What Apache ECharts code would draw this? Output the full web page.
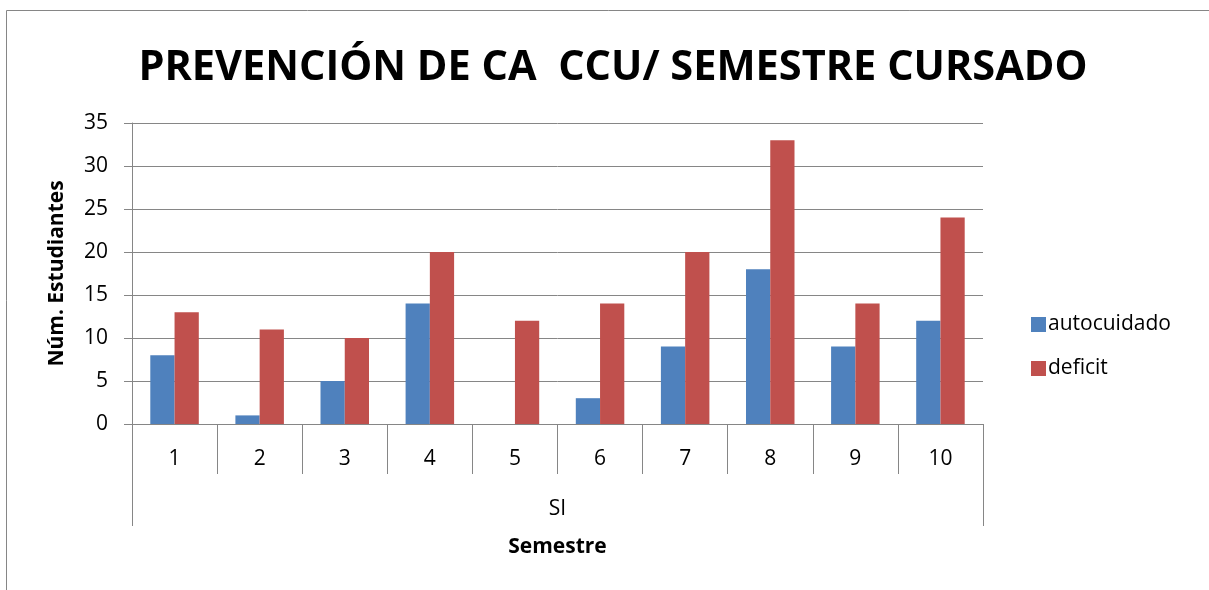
<!DOCTYPE html>
<html>
<head>
<meta charset="utf-8">
<script src="https://cdn.jsdelivr.net/npm/echarts@6/dist/echarts.min.js"></script>
<style>
  html, body { margin: 0; padding: 0; background: #fff; }
  #chart { width: 1209px; height: 590px; }
</style>
</head>
<body>
<div id="chart"></div>
<script>
const semestres = ['1', '2', '3', '4', '5', '6', '7', '8', '9', '10'];
const autocuidado = [8, 1, 5, 14, 0, 3, 9, 18, 9, 12];
const deficit = [13, 11, 10, 20, 12, 14, 20, 33, 14, 24];
const grupo = ['SI'];

const FONT = '"Open Sans", "Liberation Sans", sans-serif';
const GRIS = '#868686';

const chart = echarts.init(document.getElementById('chart'));
chart.setOption({
  backgroundColor: '#fff',
  animation: false,
  title: {
    text: 'PREVENCIÓN DE CA  CCU/ SEMESTRE CURSADO',
    left: 608,
    textAlign: 'center',
    top: 42,
    textStyle: { fontFamily: FONT, fontWeight: 'bold', fontSize: 41.5, color: '#000' },
  },
  legend: {
    orient: 'vertical',
    left: 1026,
    top: 309,
    itemWidth: 15,
    itemHeight: 15,
    itemGap: 23,
    icon: 'rect',
    textStyle: { fontFamily: FONT, fontSize: 21, color: '#000', padding: [0, 0, 0, -3] },
    data: ['autocuidado', 'deficit'],
  },
  grid: { left: 132, right: 226, top: 123, bottom: 166, containLabel: false },
  xAxis: [
    {
      type: 'category',
      data: semestres,
      axisLine: { show: true, lineStyle: { color: GRIS, width: 1 } },
      axisTick: { show: true, length: 50, lineStyle: { color: GRIS } },
      axisLabel: { margin: 25, fontFamily: FONT, fontSize: 21, color: '#000' },
    },
    {
      type: 'category',
      data: grupo,
      position: 'bottom',
      axisLine: { show: false },
      axisTick: { show: true, length: 102, lineStyle: { color: GRIS } },
      axisLabel: { margin: 75, fontFamily: FONT, fontSize: 21, color: '#000' },
      name: 'Semestre',
      nameLocation: 'middle',
      nameGap: 113,
      nameTextStyle: { fontFamily: FONT, fontSize: 21, fontWeight: 'bold', color: '#000' },
    },
  ],
  yAxis: {
    type: 'value',
    min: 0,
    max: 35,
    interval: 5,
    name: 'Núm. Estudiantes',
    nameLocation: 'middle',
    nameGap: 64,
    nameTextStyle: { fontFamily: FONT, fontSize: 21, fontWeight: 'bold', color: '#000' },
    axisLine: { show: true, lineStyle: { color: GRIS } },
    axisTick: { show: true, length: 8, lineStyle: { color: GRIS } },
    splitLine: { lineStyle: { color: GRIS, width: 1 } },
    axisLabel: { margin: 24, fontFamily: FONT, fontSize: 21, color: '#000' },
  },
  series: [
    {
      name: 'autocuidado',
      type: 'bar',
      data: autocuidado,
      barGap: '0%',
      barCategoryGap: '43%',
      itemStyle: { color: '#4F81BD' },
    },
    {
      name: 'deficit',
      type: 'bar',
      data: deficit,
      itemStyle: { color: '#C0504D' },
    },
  ],
  graphic: [
    {
      type: 'rect',
      shape: { x: 6.5, y: 10.5, width: 1300, height: 700 },
      style: { fill: null, stroke: GRIS, lineWidth: 1 },
      silent: true,
    },
  ],
});
</script>
</body>
</html>
